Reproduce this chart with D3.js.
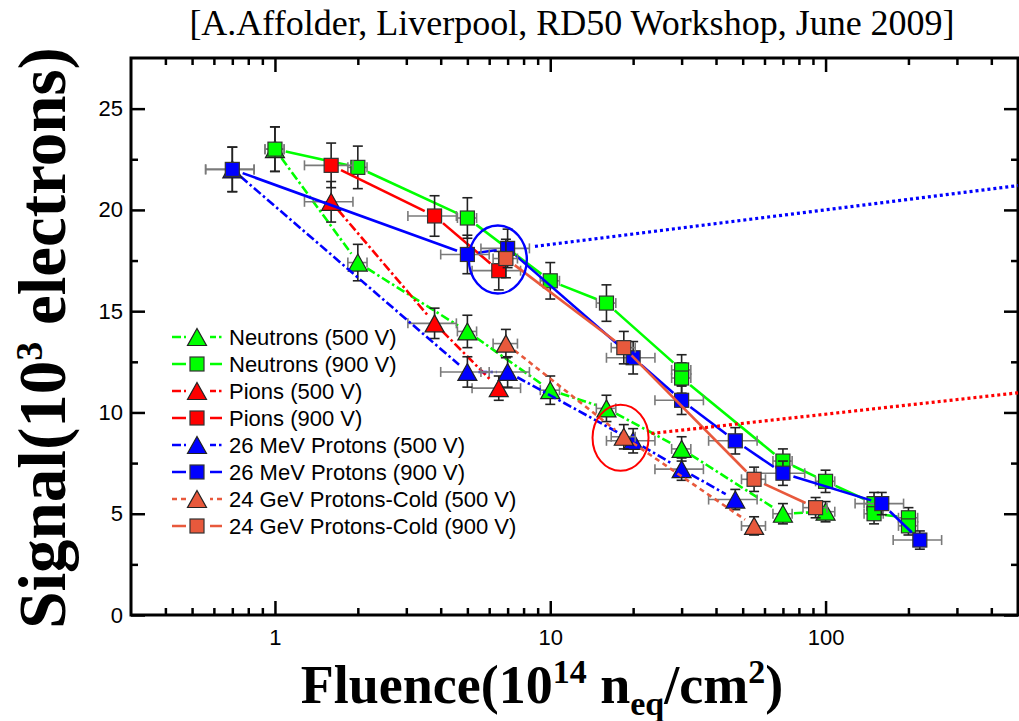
<!DOCTYPE html>
<html>
<head>
<meta charset="utf-8">
<script src="https://cdn.jsdelivr.net/npm/d3@7"></script>
<style>
  body { margin: 0; background: #fff; }
  svg { display: block; }
</style>
</head>
<body>
<svg id="chart" width="1019" height="721"></svg>
<script>
// ---- Data: signal (10^3 e-) versus fluence (10^14 neq/cm^2) ----
const neutrons500Fluence    = [1.0, 2.0, 5.0, 10, 16, 30, 70, 100];
const neutrons500Signal     = [23.0, 17.4, 14.0, 11.1, 10.2, 8.2, 5.0, 5.1];
const neutrons500SignalErr  = [1.1, 0.9, 0.8, 0.7, 0.65, 0.6, 0.5, 0.5];
const neutrons500FluenceErr = [0.08, 0.16, 0.4, 0.8, 1.3, 2.4, 5.6, 8];

const neutrons900Fluence    = [1.0, 2.0, 5.0, 10, 16, 30, 30, 70, 100, 150, 150, 200, 200];
const neutrons900Signal     = [23.0, 22.1, 19.6, 16.5, 15.4, 12.1, 11.7, 7.6, 6.6, 5.5, 5.0, 4.8, 4.4];
const neutrons900SignalErr  = [1.1, 1.05, 1.0, 0.9, 0.9, 0.75, 0.75, 0.6, 0.55, 0.55, 0.5, 0.5, 0.45];
const neutrons900FluenceErr = [0.08, 0.16, 0.4, 0.8, 1.3, 2.4, 2.4, 5.6, 8, 12, 12, 16, 16];

const pions500Fluence    = [1.6, 3.8, 6.5];
const pions500Signal     = [20.4, 14.4, 11.2];
const pions500SignalErr  = [1.0, 0.75, 0.6];
const pions500FluenceErr = [0.32, 0.76, 1.3];

const pions900Fluence    = [1.6, 3.8, 6.5];
const pions900Signal     = [22.2, 19.7, 17.0];
const pions900SignalErr  = [1.1, 1.0, 0.95];
const pions900FluenceErr = [0.32, 0.76, 1.3];

const p26mev500Fluence    = [0.7, 5, 7, 20, 30, 47];
const p26mev500Signal     = [22.0, 12.0, 12.0, 8.6, 7.2, 5.7];
const p26mev500SignalErr  = [1.1, 0.75, 0.75, 0.6, 0.55, 0.5];
const p26mev500FluenceErr = [0.14, 1.0, 1.4, 4, 6, 9.4];

const p26mev900Fluence    = [0.7, 5, 7, 20, 30, 47, 70, 160, 220];
const p26mev900Signal     = [22.0, 17.8, 18.1, 12.7, 10.6, 8.6, 7.0, 5.5, 3.7];
const p26mev900SignalErr  = [1.1, 0.95, 0.95, 0.8, 0.7, 0.65, 0.6, 0.55, 0.45];
const p26mev900FluenceErr = [0.14, 1.0, 1.4, 4, 6, 9.4, 14, 32, 44];

const p24gev500Fluence    = [6.9, 18.5, 55];
const p24gev500Signal     = [13.4, 8.8, 4.4];
const p24gev500SignalErr  = [0.7, 0.6, 0.45];
const p24gev500FluenceErr = [0.7, 1.85, 5.5];

const p24gev900Fluence    = [6.9, 18.5, 55, 92];
const p24gev900Signal     = [17.6, 13.2, 6.7, 5.3];
const p24gev900SignalErr  = [0.95, 0.8, 0.6, 0.5];
const p24gev900FluenceErr = [0.7, 1.85, 5.5, 9.2];

const seriesLabels = [
  "Neutrons (500 V)", "Neutrons (900 V)",
  "Pions (500 V)", "Pions (900 V)",
  "26 MeV Protons (500 V)", "26 MeV Protons (900 V)",
  "24 GeV Protons-Cold (500 V)", "24 GeV Protons-Cold (900 V)"
];

const xMajorTicks = [1, 10, 100];
const yMajorTicks = [0, 5, 10, 15, 20, 25];
const yMinorTicks = [2.5, 7.5, 12.5, 17.5, 22.5];

// Highlighted regions (fluence, signal) and the dotted pointers leaving them
const blueMarkCenter = [6.45, 17.55];
const blueMarkFrom = [8.8, 18.2];
const blueMarkTo = [500, 21.2];
const redMarkCenter = [18.0, 8.75];
const redMarkFrom = [23.3, 8.96];
const redMarkTo = [500, 10.97];

// ---- Styling per series ----
const GREEN = "#00ff00", RED = "#ff0000", BLUE = "#0000ff", TOMATO = "#e8593c";
const DASHDOT = "9,3,2.5,3", SHORTDASH = "5,4";

function pack(f, s, se, fe) {
  return f.map((v, i) => ({ f: v, s: s[i], se: se[i], fe: fe[i] }));
}

const series = [
  { pts: pack(neutrons500Fluence, neutrons500Signal, neutrons500SignalErr, neutrons500FluenceErr), color: GREEN, sym: "tri", dash: DASHDOT },
  { pts: pack(neutrons900Fluence, neutrons900Signal, neutrons900SignalErr, neutrons900FluenceErr), color: GREEN, sym: "sq", dash: null },
  { pts: pack(pions500Fluence, pions500Signal, pions500SignalErr, pions500FluenceErr), color: RED, sym: "tri", dash: DASHDOT },
  { pts: pack(pions900Fluence, pions900Signal, pions900SignalErr, pions900FluenceErr), color: RED, sym: "sq", dash: null },
  { pts: pack(p26mev500Fluence, p26mev500Signal, p26mev500SignalErr, p26mev500FluenceErr), color: BLUE, sym: "tri", dash: DASHDOT },
  { pts: pack(p26mev900Fluence, p26mev900Signal, p26mev900SignalErr, p26mev900FluenceErr), color: BLUE, sym: "sq", dash: null },
  { pts: pack(p24gev500Fluence, p24gev500Signal, p24gev500SignalErr, p24gev500FluenceErr), color: TOMATO, sym: "tri", dash: SHORTDASH },
  { pts: pack(p24gev900Fluence, p24gev900Signal, p24gev900SignalErr, p24gev900FluenceErr), color: TOMATO, sym: "sq", dash: null }
];
series.forEach((s, i) => s.label = seriesLabels[i]);

// ---- Layout ----
const svg = d3.select("#chart");
const X0 = 131, X1 = 1018, Y0 = 615, Y1 = 58;
const x = d3.scaleLog().domain([0.3, 500]).range([X0, X1]);
const y = d3.scaleLinear().domain([0, 27.5]).range([Y0, Y1]);

// Title
svg.append("text")
  .attr("x", 572).attr("y", 35)
  .attr("text-anchor", "middle")
  .attr("font-family", "'Liberation Serif', 'Times New Roman', serif")
  .attr("font-size", 36)
  .text("[A.Affolder, Liverpool, RD50 Workshop, June 2009]");

// Axes with inward ticks on all sides
const isDecade = v => Math.abs(Math.log10(v) - Math.round(Math.log10(v))) < 1e-9;
const xMinorTicks = x.ticks().filter(v => !isDecade(v) && v > 0.3001 && v < 499);

function styleAxis(g) {
  g.select(".domain").remove();
  g.selectAll(".tick line").attr("stroke", "#000").attr("stroke-width", 2.5);
  g.selectAll(".tick text")
    .attr("font-family", "'Liberation Sans', Arial, sans-serif")
    .attr("font-size", 22).attr("fill", "#000");
}

svg.append("g").attr("transform", `translate(0,${Y0})`)
  .call(d3.axisBottom(x).tickValues(xMajorTicks).tickSize(-14).tickPadding(14).tickFormat(d3.format("d")))
  .call(styleAxis);
svg.append("g").attr("transform", `translate(0,${Y0})`)
  .call(d3.axisBottom(x).tickValues(xMinorTicks).tickSize(-7).tickFormat(""))
  .call(styleAxis);
svg.append("g").attr("transform", `translate(0,${Y1})`)
  .call(d3.axisTop(x).tickValues(xMajorTicks).tickSize(-14).tickFormat(""))
  .call(styleAxis);
svg.append("g").attr("transform", `translate(0,${Y1})`)
  .call(d3.axisTop(x).tickValues(xMinorTicks).tickSize(-7).tickFormat(""))
  .call(styleAxis);
svg.append("g").attr("transform", `translate(${X0},0)`)
  .call(d3.axisLeft(y).tickValues(yMajorTicks).tickSize(-14).tickPadding(8))
  .call(styleAxis);
svg.append("g").attr("transform", `translate(${X0},0)`)
  .call(d3.axisLeft(y).tickValues(yMinorTicks).tickSize(-7).tickFormat(""))
  .call(styleAxis);
svg.append("g").attr("transform", `translate(${X1},0)`)
  .call(d3.axisRight(y).tickValues(yMajorTicks).tickSize(-14).tickFormat(""))
  .call(styleAxis);
svg.append("g").attr("transform", `translate(${X1},0)`)
  .call(d3.axisRight(y).tickValues(yMinorTicks).tickSize(-7).tickFormat(""))
  .call(styleAxis);

svg.append("rect")
  .attr("x", X0).attr("y", Y1).attr("width", X1 - X0).attr("height", Y0 - Y1)
  .attr("fill", "none").attr("stroke", "#000").attr("stroke-width", 3);

// Axis titles
const serif = "'Liberation Serif', 'Times New Roman', serif";
const xt = svg.append("text")
  .attr("x", 542).attr("y", 703)
  .attr("text-anchor", "middle")
  .attr("font-family", serif).attr("font-weight", "bold").attr("font-size", 54);
xt.append("tspan").text("Fluence(10");
xt.append("tspan").attr("font-size", 34).attr("dy", -20).text("14");
xt.append("tspan").attr("dy", 20).text(" n");
xt.append("tspan").attr("font-size", 34).attr("dy", 12).text("eq");
xt.append("tspan").attr("dy", -12).text("/cm");
xt.append("tspan").attr("font-size", 34).attr("dy", -20).text("2");
xt.append("tspan").attr("dy", 20).text(")");

const yt = svg.append("text")
  .attr("transform", "translate(65,338) rotate(-90)")
  .attr("text-anchor", "middle")
  .attr("font-family", serif).attr("font-weight", "bold").attr("font-size", 67);
yt.append("tspan").text("Signal(10");
yt.append("tspan").attr("font-size", 38).attr("dy", -23).text("3");
yt.append("tspan").attr("dy", 23).text(" electrons)");

// ---- Plot content ----
const plot = svg.append("g");

function drawSymbol(g, sym, color, cx, cy) {
  if (sym === "sq") {
    g.append("rect")
      .attr("x", cx - 7).attr("y", cy - 7).attr("width", 14).attr("height", 14)
      .attr("fill", color).attr("stroke", "#333").attr("stroke-width", 1.2);
  } else {
    const w = 19, h = 17;
    g.append("path")
      .attr("d", `M${cx},${cy - h / 2}L${cx + w / 2},${cy + h / 2}L${cx - w / 2},${cy + h / 2}Z`)
      .attr("fill", color).attr("stroke", "#222").attr("stroke-width", 1.2)
      .attr("stroke-linejoin", "miter");
  }
}

// Connecting lines leave a small gap around each symbol
const GAP = 11;
function drawGappedLine(g, pts, color, dash) {
  for (let i = 0; i < pts.length - 1; i++) {
    const x1 = x(pts[i].f), y1 = y(pts[i].s), x2 = x(pts[i + 1].f), y2 = y(pts[i + 1].s);
    const dx = x2 - x1, dy = y2 - y1, len = Math.hypot(dx, dy);
    if (len <= 2 * GAP + 1) continue;
    const ux = dx / len, uy = dy / len;
    g.append("line")
      .attr("x1", x1 + ux * GAP).attr("y1", y1 + uy * GAP)
      .attr("x2", x2 - ux * GAP).attr("y2", y2 - uy * GAP)
      .attr("stroke", color).attr("stroke-width", 2.6)
      .attr("stroke-dasharray", dash)
      .attr("stroke-linecap", "butt");
  }
}

function drawErrorBars(g, pts) {
  pts.forEach(p => {
    const cx = x(p.f), cy = y(p.s);
    const xl = x(p.f - p.fe), xr = x(p.f + p.fe);
    const yt = y(p.s + p.se), yb = y(p.s - p.se);
    const h = g.append("g").attr("stroke", "#7a7a7a").attr("stroke-width", 1.6);
    h.append("line").attr("x1", xl).attr("x2", xr).attr("y1", cy).attr("y2", cy);
    h.append("line").attr("x1", xl).attr("x2", xl).attr("y1", cy - 5).attr("y2", cy + 5);
    h.append("line").attr("x1", xr).attr("x2", xr).attr("y1", cy - 5).attr("y2", cy + 5);
    const v = g.append("g").attr("stroke", "#222").attr("stroke-width", 1.6);
    v.append("line").attr("x1", cx).attr("x2", cx).attr("y1", yt).attr("y2", yb);
    v.append("line").attr("x1", cx - 5).attr("x2", cx + 5).attr("y1", yt).attr("y2", yt);
    v.append("line").attr("x1", cx - 5).attr("x2", cx + 5).attr("y1", yb).attr("y2", yb);
  });
}

series.forEach(s => {
  const g = plot.append("g");
  drawGappedLine(g, s.pts, s.color, s.dash);
  drawErrorBars(g, s.pts);
  s.pts.forEach(p => drawSymbol(g, s.sym, s.color, x(p.f), y(p.s)));
});

// Highlight ellipses and dotted pointers
const notes = svg.append("g").attr("fill", "none");
notes.append("ellipse")
  .attr("cx", x(blueMarkCenter[0])).attr("cy", y(blueMarkCenter[1]))
  .attr("rx", 29).attr("ry", 34)
  .attr("stroke", BLUE).attr("stroke-width", 2.4);
notes.append("line")
  .attr("x1", x(blueMarkFrom[0])).attr("y1", y(blueMarkFrom[1]))
  .attr("x2", x(blueMarkTo[0])).attr("y2", y(blueMarkTo[1]))
  .attr("stroke", BLUE).attr("stroke-width", 3.2).attr("stroke-dasharray", "3,3");
notes.append("ellipse")
  .attr("cx", x(redMarkCenter[0])).attr("cy", y(redMarkCenter[1]))
  .attr("rx", 28).attr("ry", 33)
  .attr("stroke", RED).attr("stroke-width", 2);
notes.append("line")
  .attr("x1", x(redMarkFrom[0])).attr("y1", y(redMarkFrom[1]))
  .attr("x2", x(redMarkTo[0])).attr("y2", y(redMarkTo[1]))
  .attr("stroke", RED).attr("stroke-width", 3.2).attr("stroke-dasharray", "3,3");

// ---- Legend ----
const legend = svg.append("g");
series.forEach((s, i) => {
  const ly = 337 + i * 27;
  const row = legend.append("g");
  row.append("line")
    .attr("x1", 172).attr("x2", 222).attr("y1", ly).attr("y2", ly)
    .attr("stroke", s.color).attr("stroke-width", 2.6)
    .attr("stroke-dasharray", s.dash);
  row.append("rect")
    .attr("x", 186).attr("y", ly - 11).attr("width", 24).attr("height", 22)
    .attr("fill", "#fff");
  drawSymbol(row, s.sym, s.color, 197, ly);
  row.append("text")
    .attr("x", 229).attr("y", ly).attr("dy", "0.36em")
    .attr("font-family", "'Liberation Sans', Arial, sans-serif")
    .attr("font-size", 22)
    .text(s.label);
});
</script>
</body>
</html>
